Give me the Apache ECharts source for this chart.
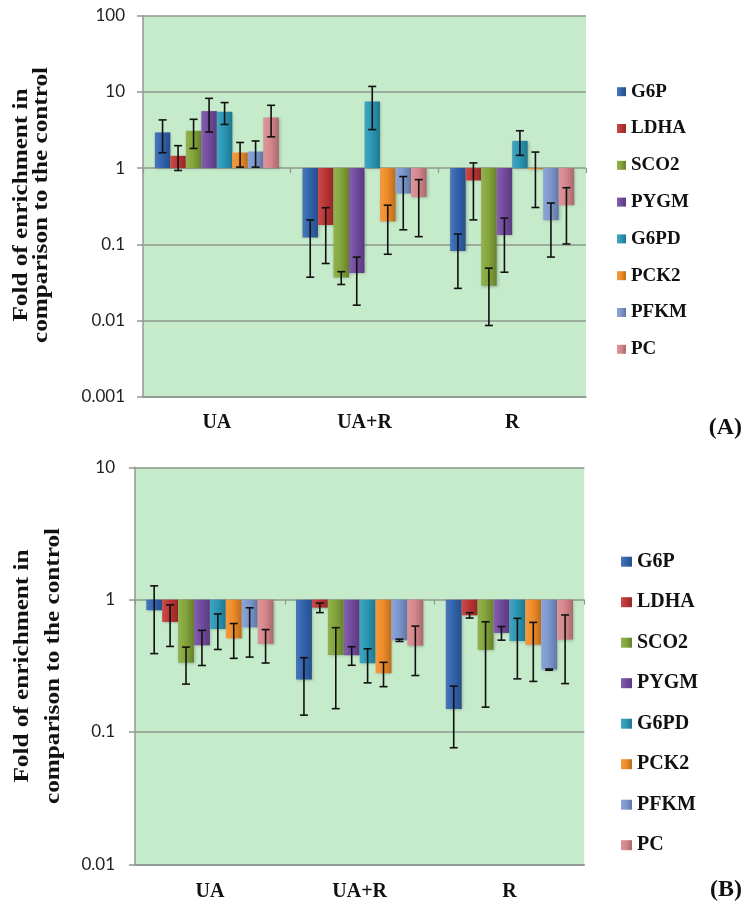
<!DOCTYPE html>
<html><head><meta charset="utf-8">
<script src="https://cdn.jsdelivr.net/npm/echarts@6/dist/echarts.min.js"></script>
<style>html,body{margin:0;padding:0;background:#fff}#c{width:746px;height:911px}</style>
</head><body><div id="c"></div>
<script>
// ---------- data ----------
const categories = ['UA', 'UA+R', 'R'];
const genes = ['G6P', 'LDHA', 'SCO2', 'PYGM', 'G6PD', 'PCK2', 'PFKM', 'PC'];
const yTicksA = ['0.001', '0.01', '0.1', '1', '10', '100'];
const yTicksB = ['0.01', '0.1', '1', '10'];
const yTitleLines = ['Fold of enrichment in', 'comparison to the control'];
const panelLabels = ['(A)', '(B)'];

// Panel A means (UA, UA+R, R)
const A_G6P  = [2.94, 0.123, 0.0814];
const A_LDHA = [1.45, 0.179, 0.689];
const A_SCO2 = [3.09, 0.0367, 0.0286];
const A_PYGM = [5.6, 0.0419, 0.132];
const A_G6PD = [5.49, 7.5, 2.28];
const A_PCK2 = [1.6, 0.2, 0.964];
const A_PFKM = [1.65, 0.465, 0.208];
const A_PC   = [4.62, 0.416, 0.327];
// Panel A error (SD)
const A_G6P_sd  = [1.35, 0.086, 0.055];
const A_LDHA_sd = [0.52, 0.123, 0.48];
const A_SCO2_sd = [1.28, 0.007, 0.020];
const A_PYGM_sd = [2.63, 0.026, 0.089];
const A_G6PD_sd = [1.75, 4.3, 0.81];
const A_PCK2_sd = [0.57, 0.126, 0.66];
const A_PFKM_sd = [0.62, 0.31, 0.14];
const A_PC_sd   = [2.05, 0.29, 0.226];

// Panel B means
const B_G6P  = [0.831, 0.249, 0.149];
const B_LDHA = [0.678, 0.87, 0.761];
const B_SCO2 = [0.334, 0.382, 0.417];
const B_PYGM = [0.452, 0.38, 0.56];
const B_G6PD = [0.6, 0.33, 0.487];
const B_PCK2 = [0.51, 0.278, 0.457];
const B_PFKM = [0.618, 0.493, 0.296];
const B_PC   = [0.463, 0.449, 0.499];
// Panel B error (SD)
const B_G6P_sd  = [0.44, 0.115, 0.073];
const B_LDHA_sd = [0.235, 0.072, 0.035];
const B_SCO2_sd = [0.104, 0.232, 0.263];
const B_PYGM_sd = [0.134, 0.061, 0.066];
const B_G6PD_sd = [0.18, 0.095, 0.235];
const B_PCK2_sd = [0.15, 0.058, 0.216];
const B_PFKM_sd = [0.25, 0.01, 0.003];
const B_PC_sd   = [0.131, 0.182, 0.267];

const meansA = [A_G6P, A_LDHA, A_SCO2, A_PYGM, A_G6PD, A_PCK2, A_PFKM, A_PC];
const sdA = [A_G6P_sd, A_LDHA_sd, A_SCO2_sd, A_PYGM_sd, A_G6PD_sd, A_PCK2_sd, A_PFKM_sd, A_PC_sd];
const meansB = [B_G6P, B_LDHA, B_SCO2, B_PYGM, B_G6PD, B_PCK2, B_PFKM, B_PC];
const sdB = [B_G6P_sd, B_LDHA_sd, B_SCO2_sd, B_PYGM_sd, B_G6PD_sd, B_PCK2_sd, B_PFKM_sd, B_PC_sd];

// ---------- styles ----------
const palette = ['#3264AF', '#BE3535', '#84A63A', '#734BA0', '#2A98B6', '#F08C28', '#7D98CF', '#D7878C'];
const gridColor = '#8E988F';
const plotBg = '#C6EBCB';
const serif = '"Liberation Serif", "Times New Roman", serif';
const sans = 'Lato, "Open Sans", sans-serif';

function shade(hex, f) {
  const n = parseInt(hex.slice(1), 16);
  let r = (n >> 16) & 255, g = (n >> 8) & 255, b = n & 255;
  if (f >= 0) { r += (255 - r) * f; g += (255 - g) * f; b += (255 - b) * f; }
  else { r *= (1 + f); g *= (1 + f); b *= (1 + f); }
  return 'rgb(' + Math.round(r) + ',' + Math.round(g) + ',' + Math.round(b) + ')';
}
function grad(hex) {
  return { type: 'linear', x: 0, y: 0, x2: 1, y2: 0, colorStops: [
    { offset: 0, color: shade(hex, 0.12) },
    { offset: 0.45, color: hex },
    { offset: 1, color: shade(hex, -0.22) }
  ]};
}

const panels = [
  { grid: { left: 143, top: 15.7, width: 443, height: 381 }, min: 0.001, max: 100, ticks: yTicksA,
    means: meansA, sd: sdA, labelMargin: 18, xMargin: 16, gap: 0.16,
    legend: { left: 617, top: 82.2, iw: 9, ih: 9, fs: 19, gapY: 36.8 },
    title: { x: [21.7, 41.7], y: 205, fs: 21 }, tag: { y: 428 } },
  { grid: { left: 135, top: 467.3, width: 449.3, height: 397 }, min: 0.01, max: 10, ticks: yTicksB,
    means: meansB, sd: sdB, labelMargin: 20, xMargin: 18, gap: 0.15,
    legend: { left: 621, top: 551.7, iw: 11, ih: 10, fs: 20, gapY: 40.5 },
    title: { x: [23, 54], y: 666, fs: 21 }, tag: { y: 890 } }
];

const option = {
  animation: false,
  backgroundColor: '#fff',
  grid: [], xAxis: [], yAxis: [], series: [], legend: [], graphic: []
};

panels.forEach((p, pi) => {
  option.grid.push(Object.assign({ show: true, backgroundColor: plotBg, borderWidth: 0, containLabel: false, outerBoundsMode: 'none' }, p.grid));
  const decades = Math.log10(p.max) - Math.log10(p.min);
  const oneFrac = (0 - Math.log10(p.min)) / decades;
  // category axis with labels at the bottom
  option.xAxis.push({
    type: 'category', gridIndex: pi, data: categories, position: 'bottom',
    axisLine: { show: true, lineStyle: { color: gridColor, width: 1.5 } },
    axisTick: { show: false },
    axisLabel: { margin: p.xMargin, color: '#111', fontFamily: serif, fontWeight: 'bold', fontSize: 20 },
    splitLine: { show: false }
  });
  // tick-only axis lying on the value 1 line
  option.xAxis.push({
    type: 'category', gridIndex: pi, data: categories, position: 'bottom',
    offset: -p.grid.height * oneFrac,
    axisLine: { show: false },
    axisTick: { show: true, length: 5, lineStyle: { color: gridColor, width: 1.2 } },
    axisLabel: { show: false }, splitLine: { show: false }
  });
  const minLog = Math.log10(p.min);
  option.yAxis.push({
    type: 'log', logBase: 10, gridIndex: pi, min: p.min, max: p.max,
    axisLine: { show: true, lineStyle: { color: gridColor, width: 1.5 } },
    axisTick: { show: true, length: 6, lineStyle: { color: gridColor, width: 1.5 } },
    axisLabel: { margin: p.labelMargin, color: '#222', fontFamily: sans, fontSize: 17,
      formatter: v => p.ticks[Math.round(Math.log10(v) - minLog)] },
    splitLine: { show: true, lineStyle: { color: gridColor, width: 1.5 } },
    minorTick: { show: false }
  });
  genes.forEach((g, gi) => {
    option.series.push({
      name: g, type: 'bar', xAxisIndex: pi * 2, yAxisIndex: pi,
      data: p.means[gi], barGap: '0%', barCategoryGap: (p.gap * 100) + '%',
      itemStyle: { color: grad(palette[gi]), shadowBlur: 3, shadowColor: 'rgba(0,0,0,0.25)', shadowOffsetX: 1, shadowOffsetY: 1 },
      emphasis: { disabled: true }
    });
  });
  const errData = [];
  genes.forEach((g, gi) => {
    categories.forEach((c, ci) => errData.push([ci, gi, p.means[gi][ci], p.sd[gi][ci]]));
  });
  option.series.push({
    type: 'custom', xAxisIndex: pi * 2, yAxisIndex: pi, z: 10, silent: true,
    encode: { x: 0, y: 2 },
    data: errData,
    renderItem: function (params, api) {
      const ci = api.value(0), gi = api.value(1), m = api.value(2), s = api.value(3);
      const center = api.coord([ci, m]);
      const band = api.size([1, 0], [ci, 1])[0];
      const bw = band * (1 - p.gap) / genes.length;
      const x = center[0] + (gi - (genes.length - 1) / 2) * bw;
      const yHi = api.coord([ci, m + s])[1];
      const yLo = api.coord([ci, Math.max(m - s, p.min)])[1];
      const cap = 4;
      const st = { stroke: '#111', lineWidth: 1.6 };
      return { type: 'group', children: [
        { type: 'line', shape: { x1: x, y1: yHi, x2: x, y2: yLo }, style: st },
        { type: 'line', shape: { x1: x - cap, y1: yHi, x2: x + cap, y2: yHi }, style: st },
        { type: 'line', shape: { x1: x - cap, y1: yLo, x2: x + cap, y2: yLo }, style: st }
      ]};
    }
  });
  option.legend.push({
    orient: 'vertical', left: p.legend.left, top: p.legend.top, data: genes,
    icon: 'rect', itemWidth: p.legend.iw, itemHeight: p.legend.ih,
    itemGap: p.legend.gapY - p.legend.fs, selectedMode: false, padding: 0,
    textStyle: { fontFamily: serif, fontWeight: 'bold', fontSize: p.legend.fs, lineHeight: p.legend.fs, color: '#111' }
  });
  // y-axis title lines (rotated, stretched along the text to match)
  yTitleLines.forEach((t, li) => {
    option.graphic.push({
      type: 'text', x: p.title.x[li], y: p.title.y, rotation: Math.PI / 2,
      scaleX: 1.2, scaleY: 1, silent: true,
      style: { text: t, font: 'bold ' + p.title.fs + 'px ' + serif, fill: '#111',
        textAlign: 'center', textVerticalAlign: 'middle', align: 'center', verticalAlign: 'middle' }
    });
  });
  option.graphic.push({
    type: 'text', x: 742, y: p.tag.y, silent: true,
    style: { text: panelLabels[pi], font: 'bold 24px ' + serif, fill: '#111',
      textAlign: 'right', textVerticalAlign: 'middle', align: 'right', verticalAlign: 'middle' }
  });
});

const chart = echarts.init(document.getElementById('c'), null, { renderer: 'canvas' });
chart.setOption(option);
</script>
</body></html>
